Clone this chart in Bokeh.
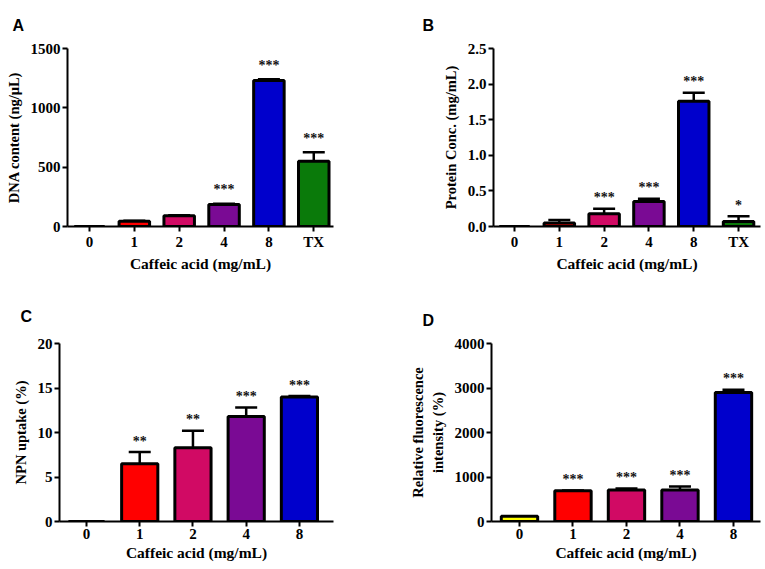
from bokeh.plotting import figure
from bokeh.layouts import column, row
from bokeh.models import FixedTicker, PrintfTickFormatter, Title, ColumnDataSource, Range1d
from bokeh.core.properties import value
from bokeh.embed import file_html
from bokeh.resources import INLINE

# ---------------- data ----------------
cats_ab = ["0", "1", "2", "4", "8", "TX"]
cats_cd = ["0", "1", "2", "4", "8"]

dna_vals = [0, 45, 90, 185, 1230, 550]
dna_err = [0, 4, 5, 6, 10, 75]
dna_sig = ["", "", "", "***", "***", "***"]

prot_vals = [0, 0.05, 0.18, 0.35, 1.76, 0.07]
prot_err = [0, 0.04, 0.07, 0.04, 0.12, 0.075]
prot_sig = ["", "", "***", "***", "***", "*"]

npn_vals = [0, 6.5, 8.3, 11.8, 14.0]
npn_err = [0, 1.3, 1.9, 1.0, 0.1]
npn_sig = ["", "**", "**", "***", "***"]

fluo_vals = [120, 690, 710, 710, 2900]
fluo_err = [0, 8, 30, 75, 60]
fluo_sig = ["", "***", "***", "***", "***"]

colors_ab = ["#ffff00", "#ff0000", "#d10a64", "#7a0a94", "#0000cc", "#0a7a0a"]
colors_cd = ["#ffff00", "#ff0000", "#d10a64", "#7a0a94", "#0000cc"]

SERIF = "Liberation Serif"
SANS = "Liberation Sans"


def panel(letter, cats, vals, errs, sigs, colors, ylabel, yticks, ymax,
          width, height, bl, br, bt, bb, xr, fmt=None, letter_off=0,
          letter_standoff=10, star_off=-11):
    p = figure(width=width, height=height, output_backend="svg",
               toolbar_location=None, tools="",
               x_range=Range1d(*xr), y_range=Range1d(0, ymax),
               min_border_left=bl, min_border_right=br,
               min_border_top=bt, min_border_bottom=bb)
    p.outline_line_color = None
    p.grid.visible = False
    p.background_fill_color = "white"
    p.border_fill_color = "white"

    p.title = Title(text=letter, align="left", offset=letter_off,
                    standoff=letter_standoff, vertical_align="top",
                    text_font=SANS, text_font_style="bold",
                    text_font_size="16px", text_color="black")

    xs = list(range(len(cats)))
    src = ColumnDataSource(dict(x=xs, top=vals, color=colors,
                                etop=[v + e for v, e in zip(vals, errs)],
                                sig=sigs))
    # error bars (upper only)
    ex = [x for x, e in zip(xs, errs) if e > 0]
    ey0 = [v for v, e in zip(vals, errs) if e > 0]
    ey1 = [v + e for v, e in zip(vals, errs) if e > 0]
    p.segment(x0=ex, y0=ey0, x1=ex, y1=ey1, line_color="black", line_width=2.5)
    p.scatter(x=ex, y=ey1, marker="dash", size=22, line_color="black", line_width=2.5)

    p.vbar(x="x", top="top", width=0.68, bottom=0, source=src,
           fill_color="color", line_color="black", line_width=3)

    p.text(x="x", y="etop", text="sig", source=src,
           text_font=value(SERIF), text_font_style="bold",
           text_font_size="14px", text_align="center",
           text_baseline="alphabetic", y_offset=star_off, text_color="#111111")

    for ax in (p.xaxis[0], p.yaxis[0]):
        ax.axis_line_width = 2
        ax.axis_line_color = "black"
        ax.major_tick_line_width = 2
        ax.major_tick_line_color = "black"
        ax.major_tick_out = 5
        ax.major_tick_in = 0
        ax.minor_tick_line_color = None
        ax.major_label_text_font = SERIF
        ax.major_label_text_font_style = "bold"
        ax.major_label_text_font_size = "15px"
        ax.major_label_text_color = "black"
        ax.axis_label_text_font = SERIF
        ax.axis_label_text_font_style = "bold"
        ax.axis_label_text_color = "black"

    p.xaxis.ticker = FixedTicker(ticks=xs)
    p.xaxis.major_label_overrides = {i: c for i, c in enumerate(cats)}
    p.xaxis.axis_label = "Caffeic acid (mg/mL)"
    p.xaxis.axis_label_text_font_size = "15.5px"
    p.xaxis.major_label_standoff = 2
    p.xaxis.axis_label_standoff = 2

    p.yaxis.ticker = FixedTicker(ticks=yticks)
    if fmt:
        p.yaxis.formatter = PrintfTickFormatter(format=fmt)
    p.yaxis.axis_label = ylabel
    p.yaxis.axis_label_text_font_size = "14.5px"
    p.yaxis.major_label_standoff = 2
    p.yaxis.axis_label_standoff = 6
    return p


pA = panel("A", cats_ab, dna_vals, dna_err, dna_sig, colors_ab,
           "DNA content (ng/μL)", [0, 500, 1000, 1500], 1500,
           380, 280, 67, 47, 48, 54, (-0.49, 5.44), letter_off=-55,
           letter_standoff=25, star_off=-14)
pB = panel("B", cats_ab, prot_vals, prot_err, prot_sig, colors_ab,
           "Protein Conc. (mg/mL)", [0, 0.5, 1.0, 1.5, 2.0, 2.5], 2.5,
           384, 280, 113, 4, 48, 54, (-0.469, 5.49), fmt="%.1f", letter_off=-71,
           letter_standoff=25, star_off=-11)
pC = panel("C", cats_cd, npn_vals, npn_err, npn_sig, colors_cd,
           "NPN uptake (%)", [0, 5, 10, 15, 20], 20,
           380, 288, 59, 47, 63, 47, (-0.507, 4.64), letter_off=-39,
           letter_standoff=33, star_off=-11)
pD = panel("D", cats_cd, fluo_vals, fluo_err, fluo_sig, colors_cd,
           "Relative fluorescence\nintensity (%)", [0, 1000, 2000, 3000, 4000], 4000,
           384, 288, 111, 4, 63, 47, (-0.523, 4.505), letter_off=-69,
           letter_standoff=26, star_off=-11)

layout = column(row(pA, pB), row(pC, pD))
open("out.html", "w").write(file_html(layout, INLINE))
